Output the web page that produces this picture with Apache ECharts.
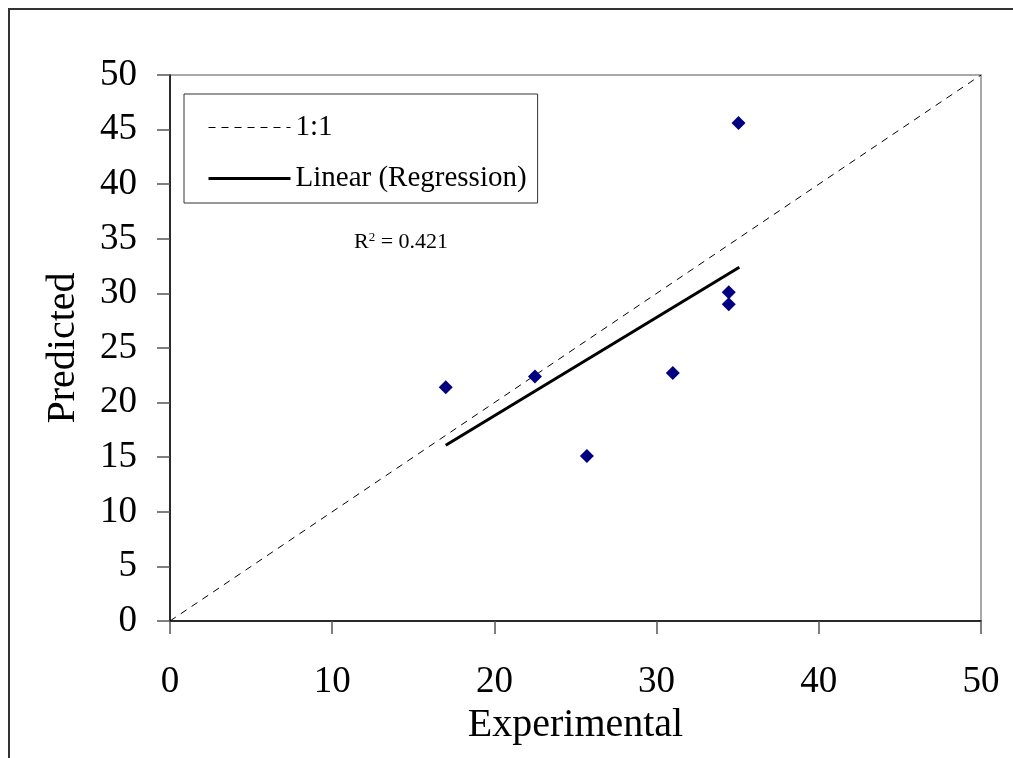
<!DOCTYPE html>
<html>
<head>
<meta charset="utf-8">
<script src="https://cdn.jsdelivr.net/npm/echarts@6/dist/echarts.min.js"></script>
<style>html,body{margin:0;padding:0;background:#fff}#c{width:1013px;height:758px}</style>
</head>
<body>
<div id="c"></div>
<script>
// Data
var experimental = [17.0, 22.5, 25.7, 31.0, 34.45, 34.45, 35.05];
var predicted    = [21.4, 22.4, 15.1, 22.7, 30.1, 29.0, 45.6];
var oneToOneX = [0, 50];
var oneToOneY = [0, 50];
var regressionX = [17.0, 35.1];
var regressionY = [16.1, 32.4];
var rSquared = '0.421';

function pairs(xs, ys){ return xs.map(function(x,i){ return [x, ys[i]]; }); }

var font = 'Liberation Serif, Times New Roman, serif';
var chart = echarts.init(document.getElementById('c'), null, {renderer:'canvas'});
chart.setOption({
  backgroundColor:'#fff',
  animation:false,
  grid:{left:170, top:75, right:32, bottom:137, show:true, borderColor:'#8c8c8c', borderWidth:1.5, containLabel:false},
  title:{
    text:'R{sup|2} = ' + rSquared,
    left:354, top:231, padding:0,
    textStyle:{fontFamily:font, fontSize:22, fontWeight:'normal', color:'#000',
      rich:{sup:{fontFamily:font, fontSize:13, verticalAlign:'top', padding:[0,0,10,0], color:'#000'}}}
  },
  legend:{
    data:[
      {name:'1:1', lineStyle:{width:1, type:[7,6], color:'#000'}},
      {name:'Linear (Regression)', lineStyle:{width:3, color:'#000'}}
    ],
    orient:'vertical', left:184, top:94,
    padding:[19,11,10,23], itemGap:22, itemWidth:82, itemHeight:14, itemTextGap:6,
    borderColor:'#333', borderWidth:1, backgroundColor:'#fff',
    itemStyle:{opacity:0, borderWidth:0},
    textStyle:{fontFamily:font, fontSize:29, color:'#000'},
    selectedMode:false
  },
  xAxis:{
    type:'value', min:0, max:50, interval:10,
    name:'Experimental', nameLocation:'middle', nameGap:79,
    nameTextStyle:{fontFamily:font, fontSize:40, color:'#000'},
    axisLine:{show:true, onZero:false, lineStyle:{color:'#000', width:1.5}},
    axisTick:{show:true, inside:false, length:13, lineStyle:{color:'#555', width:1.5}},
    axisLabel:{fontFamily:font, fontSize:37, color:'#000', margin:43},
    splitLine:{show:false}
  },
  yAxis:{
    type:'value', min:0, max:50, interval:5,
    name:'Predicted', nameLocation:'middle', nameGap:87, nameRotate:90,
    nameTextStyle:{fontFamily:font, fontSize:40, color:'#000'},
    axisLine:{show:true, onZero:false, lineStyle:{color:'#000', width:1.5}},
    axisTick:{show:true, inside:false, length:13, lineStyle:{color:'#555', width:1.5}},
    axisLabel:{fontFamily:font, fontSize:37, color:'#000', margin:33},
    splitLine:{show:false}
  },
  graphic:[{type:'rect', shape:{x:9, y:9, width:1200, height:900}, style:{fill:null, stroke:'#333', lineWidth:2}, silent:true, z:-10}],
  series:[
    {name:'1:1', type:'line', data:pairs(oneToOneX, oneToOneY), symbol:'none',
     lineStyle:{color:'#000', width:1, type:[7,6]}, itemStyle:{color:'#000'}, z:2},
    {name:'Linear (Regression)', type:'line', data:pairs(regressionX, regressionY), symbol:'none',
     lineStyle:{color:'#000', width:3}, itemStyle:{color:'#000'}, z:3},
    {name:'Data', type:'scatter', data:pairs(experimental, predicted), symbol:'diamond', symbolSize:[14,14],
     itemStyle:{color:'#000080', opacity:1}, z:4}
  ]
});
</script>
</body>
</html>
